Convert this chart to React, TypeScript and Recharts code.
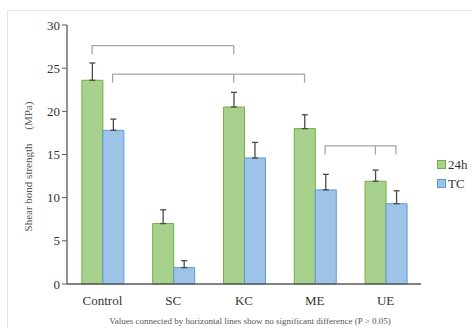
import React from "react"
import { ComposedChart, Bar, Line, XAxis, YAxis, ErrorBar } from "recharts"

const categories = ["Control", "SC", "KC", "ME", "UE"]
const mean24h = [23.6, 7.0, 20.5, 18.0, 11.9]
const sd24h = [2.0, 1.6, 1.7, 1.6, 1.3]
const meanTC = [17.8, 1.9, 14.6, 10.9, 9.3]
const sdTC = [1.3, 0.8, 1.8, 1.8, 1.5]
const yTicks = [0, 5, 10, 15, 20, 25, 30]

// brackets: [category index, series index (0 = 24h, 1 = TC)]
const bracketLevels = [27.6, 24.3, 16.0]
const bracketDrops = [26.6, 23.3, 15.0]
const bracketAnchors = [
    [[0, 0], [2, 0]],
    [[0, 1], [2, 0], [3, 0]],
    [[3, 1], [4, 0], [4, 1]],
]

const footnote = "Values connected by horizontal lines show no significant difference (P > 0.05)"

const GREEN = "#a9d18e"
const GREEN_EDGE = "#70ad47"
const BLUE = "#9dc3e6"
const BLUE_EDGE = "#5b9bd5"
const FONT = "'Liberation Serif', 'Times New Roman', serif"
const CAT_GAP = 0.21

const chartData = categories.map((name, i) => ({
    name,
    h24: mean24h[i],
    tc: meanTC[i],
    errH24: [0, sd24h[i]],
    errTC: [0, sdTC[i]],
}))

// bar centres on a 0..5 numeric axis laid over the category axis
const halfBar = (1 - 2 * CAT_GAP) / 4
const anchorX = (cat: number, s: number) => cat + 0.5 + (s === 0 ? -halfBar : halfBar)

const bracketData = bracketAnchors.map((anchors, b) => {
    const pts: { x: number; y: number }[] = []
    anchors.forEach(([c, s], k) => {
        const x = anchorX(c, s)
        if (k === 0) {
            pts.push({ x, y: bracketDrops[b] }, { x, y: bracketLevels[b] })
        } else {
            pts.push({ x, y: bracketLevels[b] }, { x, y: bracketDrops[b] })
            if (k < anchors.length - 1) pts.push({ x, y: bracketLevels[b] })
        }
    })
    return pts
})

function YLabel({ viewBox }: any) {
    if (!viewBox) return null
    const cx = viewBox.x + 1
    const cy = viewBox.y + viewBox.height / 2 + 12
    return (
        <text
            x={cx}
            y={cy}
            transform={`rotate(-90 ${cx} ${cy})`}
            textAnchor="middle"
            dominantBaseline="central"
            fontSize={11}
            fill="#555"
            style={{ whiteSpace: "pre", fontFamily: FONT }}
        >
            {"Shear bond strength\u2003 (MPa)"}
        </text>
    )
}

export default function App() {
    return (
        <div style={{ position: "fixed", left: 0, top: 0, width: 472, height: 328, overflow: "hidden", background: "#fff", fontFamily: FONT }}>
            <style>{`.recharts-wrapper text, .recharts-text { font-family: ${FONT}; }`}</style>
            <div style={{ position: "absolute", left: 7, top: 10, width: 500, height: 400, border: "1px solid #e4e4e4" }} />
            <ComposedChart
                width={472}
                height={328}
                data={chartData}
                margin={{ top: 25, right: 51, bottom: 14, left: 27 }}
                barCategoryGap={`${CAT_GAP * 100}%`}
                barGap={0}
                style={{ position: "absolute", left: 0, top: 0 }}
            >
                <XAxis
                    xAxisId="cat"
                    dataKey="name"
                    height={30}
                    tickLine={false}
                    axisLine={{ stroke: "#595959", strokeWidth: 1.3 }}
                    tick={{ fontSize: 13, fill: "#333" }}
                    tickMargin={6}
                />
                <XAxis xAxisId="pos" type="number" dataKey="x" domain={[0, 5]} hide />
                <YAxis
                    width={40}
                    domain={[0, 30]}
                    ticks={yTicks}
                    tickSize={5}
                    axisLine={{ stroke: "#595959", strokeWidth: 1.3 }}
                    tickLine={{ stroke: "#595959" }}
                    tick={{ fontSize: 13, fill: "#333" }}
                    label={<YLabel />}
                />
                <Bar xAxisId="cat" dataKey="h24" name="24h" fill={GREEN} stroke={GREEN_EDGE} strokeWidth={1} isAnimationActive={false}>
                    <ErrorBar dataKey="errH24" width={3} stroke="#4a4a4a" strokeWidth={1.3} />
                </Bar>
                <Bar xAxisId="cat" dataKey="tc" name="TC" fill={BLUE} stroke={BLUE_EDGE} strokeWidth={1} isAnimationActive={false}>
                    <ErrorBar dataKey="errTC" width={3} stroke="#4a4a4a" strokeWidth={1.3} />
                </Bar>
                {bracketData.map((pts, i) => (
                    <Line
                        key={i}
                        xAxisId="pos"
                        data={pts}
                        dataKey="y"
                        type="linear"
                        stroke="#a6a6a6"
                        strokeWidth={1.3}
                        dot={false}
                        activeDot={false}
                        legendType="none"
                        isAnimationActive={false}
                    />
                ))}
            </ComposedChart>
            {/* legend */}
            <div style={{ position: "absolute", left: 437, top: 155, fontSize: 13, color: "#333", lineHeight: "19px" }}>
                {[{ label: "24h", fill: GREEN, edge: GREEN_EDGE }, { label: "TC", fill: BLUE, edge: BLUE_EDGE }].map((it) => (
                    <div key={it.label} style={{ display: "flex", alignItems: "center" }}>
                        <span style={{ display: "inline-block", width: 7, height: 7, background: it.fill, border: `1px solid ${it.edge}`, marginRight: 2 }} />
                        {it.label}
                    </div>
                ))}
            </div>
            <div style={{ position: "absolute", left: 0, width: 500, top: 316, textAlign: "center", fontSize: 9, color: "#555", whiteSpace: "nowrap" }}>
                {footnote}
            </div>
        </div>
    )
}
